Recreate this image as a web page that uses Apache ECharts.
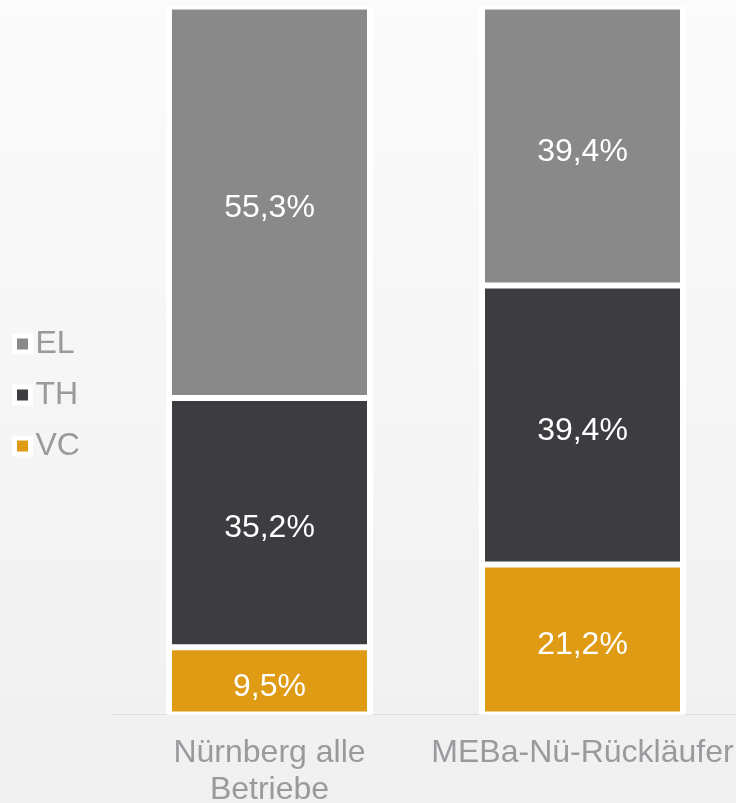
<!DOCTYPE html>
<html>
<head>
<meta charset="utf-8">
<script src="https://cdn.jsdelivr.net/npm/echarts@6/dist/echarts.min.js"></script>
<style>
html, body { margin: 0; padding: 0; }
#chart { width: 736px; height: 803px; }
</style>
</head>
<body>
<div id="chart"></div>
<script>
var categories = ['Nürnberg alle\nBetriebe', 'MEBa-Nü-Rückläufer'];
var vcValues = [9.5, 21.2];
var thValues = [35.2, 39.4];
var elValues = [55.3, 39.4];
var legendNames = ['EL', 'TH', 'VC'];

var totals = categories.map(function (c, i) {
    return vcValues[i] + thValues[i] + elValues[i];
});

var font = '"Liberation Sans", Arial, sans-serif';
var grey = '#9a9a9e';

function fmt(p) {
    return p.value.toFixed(1).replace('.', ',') + '%';
}

// white labels inside each segment
var segLabel = { show: true, position: 'inside', offset: [0, 6], color: '#ffffff', fontSize: 32, fontFamily: font, formatter: fmt };

var chart = echarts.init(document.getElementById('chart'));
var option = {
    animation: false,
    backgroundColor: {
        type: 'linear', x: 0, y: 0, x2: 0, y2: 1,
        colorStops: [{ offset: 0, color: '#fbfbfb' }, { offset: 1, color: '#f0f0f0' }]
    },
    textStyle: { fontFamily: font },
    legend: {
        orient: 'vertical',
        left: 7,
        top: 323,
        itemGap: 19,
        itemWidth: 16,
        itemHeight: 16,
        icon: 'rect',
        data: legendNames,
        itemStyle: { borderColor: '#ffffff', borderWidth: 5 },
        textStyle: { color: grey, fontSize: 32, fontFamily: font }
    },
    grid: { left: 113, right: -3, top: 6.5, bottom: 88.5, outerBoundsMode: 'none', containLabel: false },
    xAxis: [{
        type: 'category',
        data: categories,
        axisTick: { show: false },
        axisLine: { lineStyle: { color: '#dedede', width: 1 } },
        axisLabel: { color: grey, fontSize: 32, lineHeight: 37, margin: 20, fontFamily: font, interval: 0, hideOverlap: false }
    }, {
        type: 'category',
        data: categories,
        show: false
    }],
    yAxis: { type: 'value', min: 0, max: 100, show: false },
    series: [{
        name: 'frame',
        type: 'bar',
        xAxisIndex: 1,
        barWidth: 207,
        silent: true,
        z: 1,
        itemStyle: { color: '#ffffff' },
        data: totals
    }, {
        name: 'VC', type: 'bar', stack: 's', barWidth: 201, z: 2,
        itemStyle: { color: '#e09b15', borderColor: '#ffffff', borderWidth: 3 },
        label: segLabel,
        data: vcValues
    }, {
        name: 'TH', type: 'bar', stack: 's', barWidth: 201, z: 2,
        itemStyle: { color: '#3d3c41', borderColor: '#ffffff', borderWidth: 3 },
        label: segLabel,
        data: thValues
    }, {
        name: 'EL', type: 'bar', stack: 's', barWidth: 201, z: 2,
        itemStyle: { color: '#898989', borderColor: '#ffffff', borderWidth: 3 },
        label: segLabel,
        data: elValues
    }]
};
chart.setOption(option);
</script>
</body>
</html>
